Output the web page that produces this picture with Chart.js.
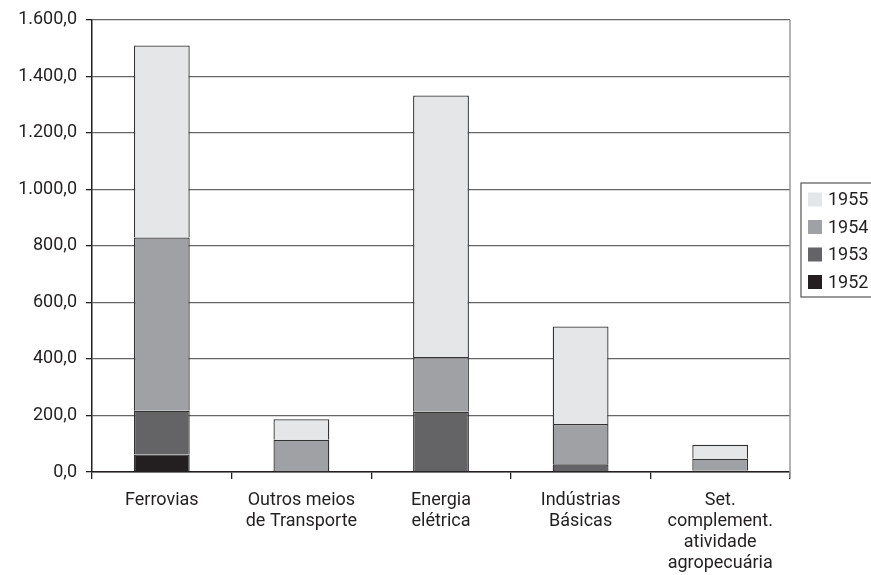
<!DOCTYPE html>
<html>
<head>
<meta charset="utf-8">
<script src="https://cdn.jsdelivr.net/npm/chart.js@4"></script>
<style>
  body { margin: 0; background: #fff; }
</style>
</head>
<body>
<canvas id="chart" width="871" height="575"></canvas>
<script>
// categories and values
var categories = [
    ['Ferrovias'],
    ['Outros meios', 'de Transporte'],
    ['Energia', 'elétrica'],
    ['Indústrias', 'Básicas'],
    ['Set.', 'complement.', 'atividade', 'agropecuária']
];
var years = ['1952', '1953', '1954', '1955'];
var values1952 = [62, null, null, null, null];
var values1953 = [155, null, 213, 27, 5];
var values1954 = [613, 114, 194, 143, 42];
var values1955 = [679, 73, 925, 345, 49];
var yTicks = [0, 200, 400, 600, 800, 1000, 1200, 1400, 1600];

var colors = ['#231f20', '#646466', '#a0a1a5', '#e5e6e8'];
var ink = '#231f20';
var font = 'Roboto, "DejaVu Sans", sans-serif';

function formatBR(v) {
    var s = Math.round(v).toString();
    s = s.replace(/\B(?=(\d{3})+(?!\d))/g, '.');
    return s + ',0';
}

// legend drawn by hand: box is cut by the right edge in the reference
var boxLegend = {
    id: 'boxLegend',
    afterDraw: function (chart) {
        var ctx = chart.ctx;
        var area = chart.chartArea;
        ctx.save();
        // right frame of the plot
        ctx.strokeStyle = '#9a9a9a';
        ctx.lineWidth = 1.5;
        ctx.beginPath();
        ctx.moveTo(area.right, area.top);
        ctx.lineTo(area.right, area.bottom + 6);
        ctx.stroke();

        ctx.strokeStyle = '#555';
        ctx.lineWidth = 1.2;
        ctx.strokeRect(801, 183, 100, 114);

        ctx.font = '18px ' + font;
        ctx.textBaseline = 'middle';
        ctx.fillStyle = ink;
        var ds = chart.data.datasets;
        for (var i = ds.length - 1, row = 0; i >= 0; i--, row++) {
            var cy = 199.5 + row * 27.5;
            ctx.fillStyle = ds[i].backgroundColor;
            ctx.fillRect(808, cy - 7, 14, 14);
            ctx.fillStyle = ink;
            ctx.fillText(ds[i].label, 828, cy + 1);
        }
        ctx.restore();
    }
};

var series = [values1952, values1953, values1954, values1955];

new Chart(document.getElementById('chart'), {
    type: 'bar',
    data: {
        labels: categories,
        datasets: series.map(function (vals, i) {
            return {
                label: years[i],
                data: vals,
                backgroundColor: colors[i],
                borderColor: '#333',
                borderWidth: 1.3,
                categoryPercentage: 1,
                barPercentage: 0.4
            };
        })
    },
    options: {
        responsive: false,
        animation: false,
        devicePixelRatio: 1,
        layout: { padding: { top: 18, right: 81, left: 0, bottom: 0 } },
        plugins: {
            legend: { display: false },
            tooltip: { enabled: false }
        },
        scales: {
            x: {
                stacked: true,
                afterFit: function (scale) { scale.height = 103; },
                grid: {
                    offset: true,
                    drawOnChartArea: false,
                    tickLength: 7,
                    tickColor: ink,
                    lineWidth: 1.3
                },
                border: { color: ink, width: 1.5 },
                ticks: {
                    color: ink,
                    padding: 11,
                    maxRotation: 0,
                    font: { family: font, size: 18, lineHeight: '21px' }
                }
            },
            y: {
                stacked: true,
                min: 0,
                max: 1600,
                afterFit: function (scale) { scale.width = 92; },
                afterBuildTicks: function (scale) {
                    scale.ticks = yTicks.map(function (v) { return { value: v }; });
                },
                grid: {
                    color: '#666',
                    lineWidth: 1.3,
                    tickLength: 6,
                    tickColor: ink
                },
                border: { color: ink, width: 1.5 },
                ticks: {
                    color: ink,
                    padding: 9,
                    font: { family: font, size: 18 },
                    callback: function (v) { return formatBR(v); }
                }
            }
        }
    },
    plugins: [boxLegend]
});
</script>
</body>
</html>
